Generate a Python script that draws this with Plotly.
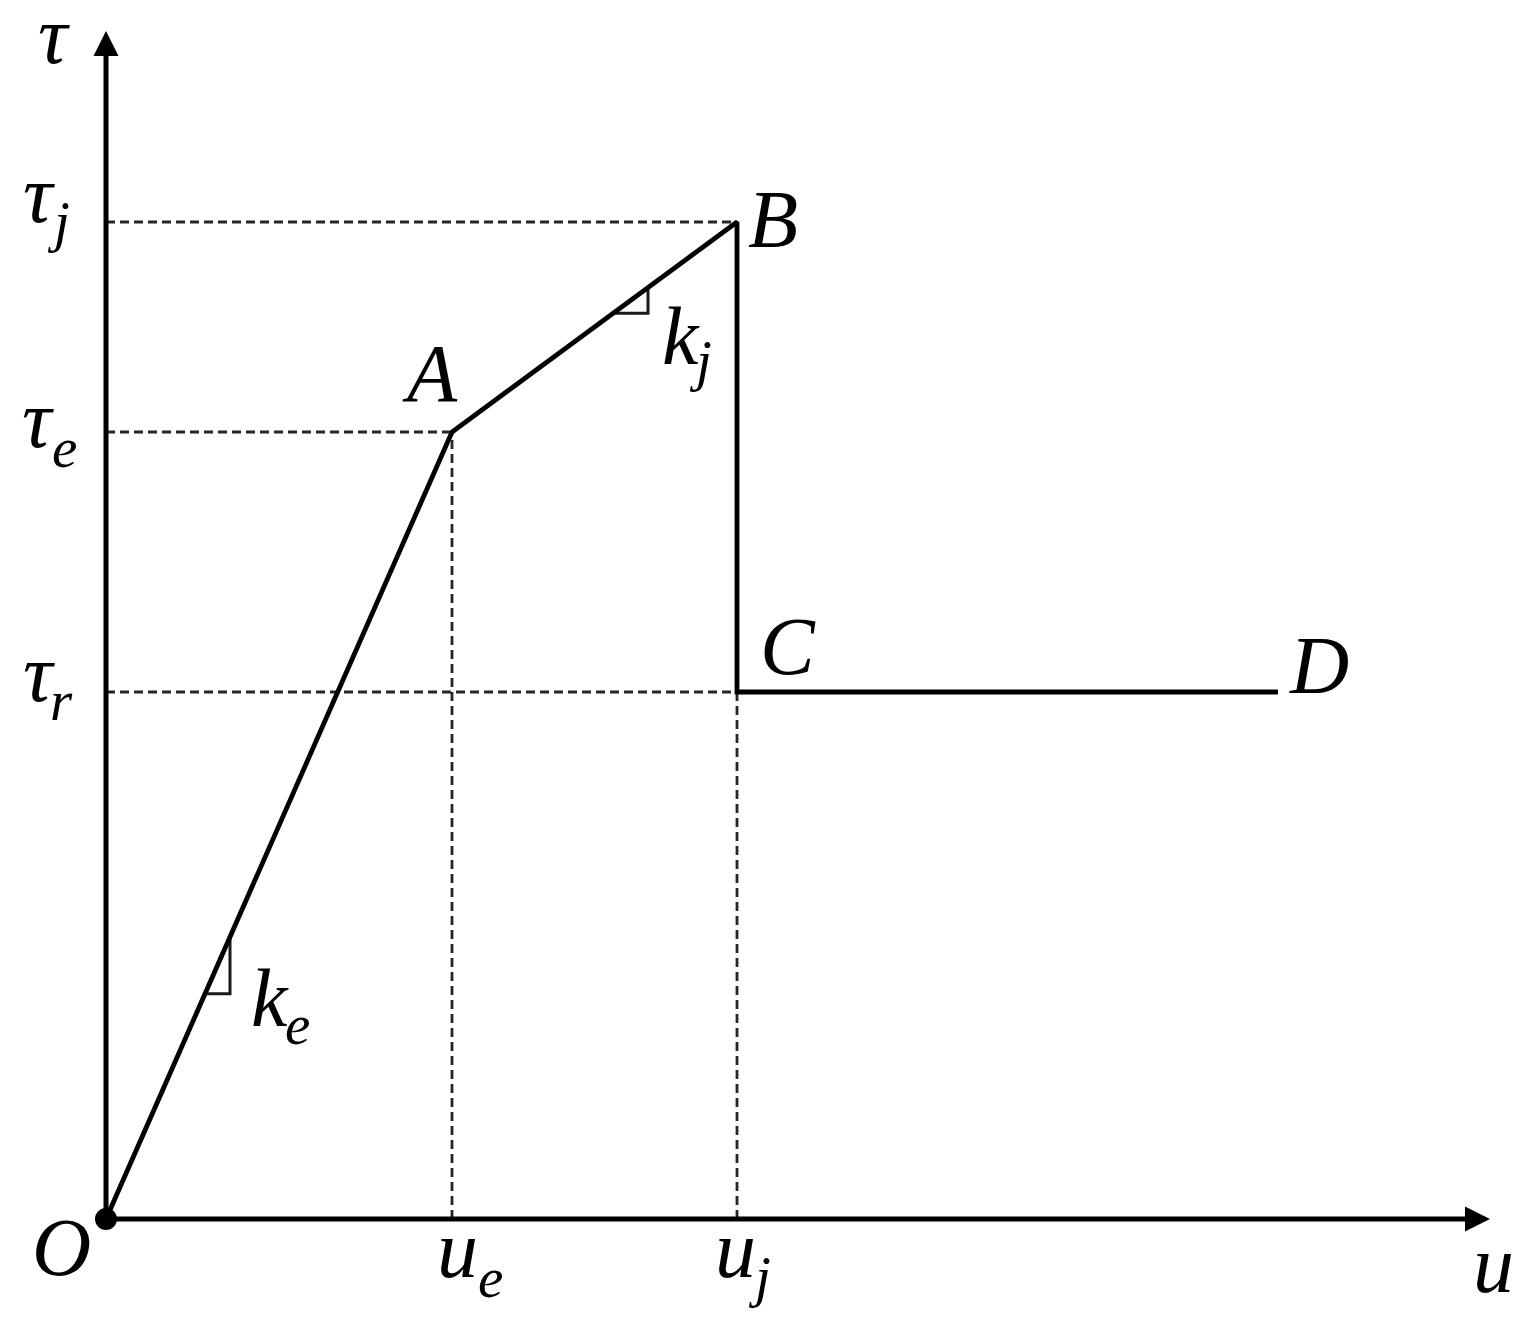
"""Trilinear bond-slip (tau-u) model sketch."""
import numpy as np
import plotly.graph_objects as go

# characteristic points of the curve (pixel-like units, origin at O)
point_names = ["O", "A", "B", "C", "D"]
u_points = [0, 346, 631, 631, 1172]
tau_points = [0, 787, 997, 527, 527]

# reference levels
u_e, u_j = 346, 631
tau_e, tau_j, tau_r = 787, 997, 527

# axis extents
u_axis_end = 1384
tau_axis_end = 1188

# feet of the little slope triangles (u values)
ke_tri_u = [99, 124]
kj_tri_u = [507, 542]

FONT = "Liberation Serif"
MAIN_SIZE = 82
SUB_SIZE = 57
INK = "#000000"
GUIDE = "#262626"

fig = go.Figure()

# dashed guide lines
guides = [
    ([0, u_j], [tau_j, tau_j]),
    ([0, u_e], [tau_e, tau_e]),
    ([0, u_j], [tau_r, tau_r]),
    ([u_e, u_e], [0, tau_e]),
    ([u_j, u_j], [0, tau_r]),
]
for gx, gy in guides:
    fig.add_trace(go.Scatter(
        x=gx, y=gy, mode="lines",
        line=dict(color=GUIDE, width=2.8, dash="9px,5px"),
        hoverinfo="skip", showlegend=False,
    ))

# slope triangles, vertices taken on the curve
tri_corners = []
for seg, tri_u in [((0, 2), ke_tri_u), ((1, 3), kj_tri_u)]:
    su = u_points[seg[0]:seg[1]]
    st = tau_points[seg[0]:seg[1]]
    t0 = float(np.interp(tri_u[0], su, st))
    t1 = float(np.interp(tri_u[1], su, st))
    tri_corners.append((tri_u[1], t0))
    fig.add_trace(go.Scatter(
        x=[tri_u[0], tri_u[1], tri_u[1]], y=[t0, t0, t1], mode="lines",
        line=dict(color="#1a1a1a", width=3),
        hoverinfo="skip", showlegend=False,
    ))

# main curve
fig.add_trace(go.Scatter(
    x=u_points, y=tau_points, mode="lines",
    line=dict(color=INK, width=4.8),
    hoverinfo="skip", showlegend=False,
))

# origin dot
fig.add_trace(go.Scatter(
    x=[u_points[0]], y=[tau_points[0]], mode="markers",
    marker=dict(color=INK, size=22),
    hoverinfo="skip", showlegend=False,
))

# axes with arrowheads
for x, y in [(u_axis_end, 0), (0, tau_axis_end)]:
    fig.add_annotation(
        x=x, y=y, ax=0, ay=0, xref="x", yref="y", axref="x", ayref="y",
        text="", showarrow=True, arrowhead=2, arrowsize=1.0,
        arrowwidth=5, arrowcolor=INK,
    )


def label(x, y, main, dx, dy, sub=None, sdx=0, sdy=0):
    fig.add_annotation(
        x=x, y=y, xref="x", yref="y", text=f"<i>{main}</i>",
        showarrow=False, xshift=dx, yshift=dy,
        font=dict(family=FONT, size=MAIN_SIZE, color=INK),
    )
    if sub:
        fig.add_annotation(
            x=x, y=y, xref="x", yref="y", text=f"<i>{sub}</i>",
            showarrow=False, xshift=sdx, yshift=sdy,
            font=dict(family=FONT, size=SUB_SIZE, color=INK),
        )


# point labels
shifts = {"O": (-45, -28), "A": (-22, 59), "B": (36, 3), "C": (51, 46), "D": (41, 27)}
for name, pu, pt in zip(point_names, u_points, tau_points):
    dx, dy = shifts[name]
    label(pu, pt, name, dx, dy)

# axis names
label(0, tau_axis_end, "τ", -52, -4)
label(u_axis_end, 0, "u", 3, -45)

# tau levels on the vertical axis
label(0, tau_j, "τ", -67, 28, "j", -48, 1)
label(0, tau_e, "τ", -68, 13, "e", -42, -15)
label(0, tau_r, "τ", -67, 19, "r", -45, -8)

# u levels on the horizontal axis
label(u_e, 0, "u", 5, -30, "e", 38, -58)
label(u_j, 0, "u", -2, -30, "j", 22, -57)

# slope names next to the triangles
(ke_u, ke_t), (kj_u, kj_t) = tri_corners
label(ke_u, ke_t, "k", 40, -5, "e", 67, -31)
label(kj_u, kj_t, "k", 33, -23, "j", 52, -47)

# 8px page margin: shift ranges so O lands where it should
fig.update_xaxes(range=[-98, 1421], visible=False, fixedrange=True)
fig.update_yaxes(range=[-98, 1211], visible=False, fixedrange=True)
fig.update_layout(
    width=1519, height=1309,
    margin=dict(l=0, r=0, t=0, b=0),
    plot_bgcolor="white", paper_bgcolor="white",
    showlegend=False,
)

fig.write_html("out.html")
